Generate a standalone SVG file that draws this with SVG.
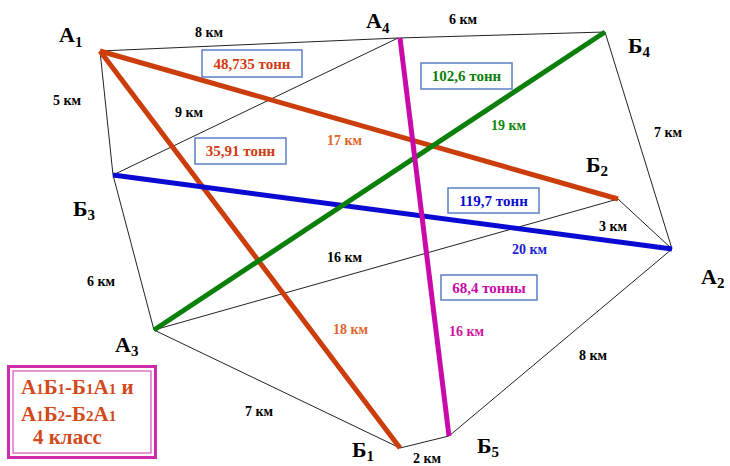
<svg xmlns="http://www.w3.org/2000/svg" width="730" height="466" viewBox="0 0 730 466">
<style>
text{font-family:"Liberation Serif","Times New Roman",serif;font-weight:bold}
.thin{stroke:#222;stroke-width:1;fill:none}
.thick{stroke-width:5;fill:none}
.r{stroke:#cc3d0c}.g{stroke:#0a800a}.b{stroke:#0a0ad2}.m{stroke:#c80aa8}
.node{font-size:22px;fill:#000}
.sub{font-size:15px}
.km{font-size:14px;fill:#000}
.box{fill:#fff;stroke:#5b7fc4;stroke-width:1.5}
.bt{font-size:15px;text-anchor:middle}
.lg{font-size:21px;fill:#d24a1a}
.ls{font-size:15px}
</style>
<rect width="730" height="466" fill="#fff"/>
<g id="connectors">
<polyline class="thin" points="100,51 398,38 605,32 672,249 449,436 400,448 154,330 113,175 100,51"/>
<line class="thin" x1="113" y1="175" x2="398" y2="38"/>
<line class="thin" x1="154" y1="330" x2="618" y2="199"/>
<line class="thin" x1="618" y1="199" x2="672" y2="249"/>
<line class="thick r" x1="100" y1="51" x2="618" y2="199"/>
<line class="thick r" x1="100" y1="51" x2="400" y2="448"/>
<line class="thick b" x1="113" y1="175" x2="672" y2="249"/>
<line class="thick g" x1="154" y1="330" x2="605" y2="32"/>
<line class="thick m" x1="400" y1="38" x2="449" y2="436"/>
</g>
<g id="A1"><text class="node" x="59" y="42">А<tspan class="sub" dy="5">1</tspan></text></g>
<g id="A4"><text class="node" x="366" y="28">А<tspan class="sub" dy="5">4</tspan></text></g>
<g id="B4"><text class="node" x="628" y="53">Б<tspan class="sub" dy="4">4</tspan></text></g>
<g id="B2"><text class="node" x="586" y="172">Б<tspan class="sub" dy="4">2</tspan></text></g>
<g id="A2"><text class="node" x="701" y="284">А<tspan class="sub" dy="4">2</tspan></text></g>
<g id="B3"><text class="node" x="73" y="216">Б<tspan class="sub" dy="4">3</tspan></text></g>
<g id="A3"><text class="node" x="115" y="352">А<tspan class="sub" dy="4">3</tspan></text></g>
<g id="B1"><text class="node" x="352" y="457">Б<tspan class="sub" dy="4">1</tspan></text></g>
<g id="B5"><text class="node" x="477" y="453">Б<tspan class="sub" dy="4">5</tspan></text></g>
<g id="labels">
<text class="km" x="195" y="37">8 км</text>
<text class="km" x="449" y="24">6 км</text>
<text class="km" x="53" y="105">5 км</text>
<text class="km" x="175" y="117">9 км</text>
<text class="km" x="654" y="137">7 км</text>
<text class="km" x="599" y="231">3 км</text>
<text class="km" x="87" y="286">6 км</text>
<text class="km" x="327" y="262">16 км</text>
<text class="km" x="579" y="360">8 км</text>
<text class="km" x="245" y="416">7 км</text>
<text class="km" x="413" y="463">2 км</text>
<text class="km" x="327" y="145" style="fill:#e0662a">17 км</text>
<text class="km" x="333" y="334" style="fill:#e0662a">18 км</text>
<text class="km" x="491" y="130" style="fill:#0a8a0a">19 км</text>
<text class="km" x="512" y="254" style="fill:#2020d8">20 км</text>
<text class="km" x="449" y="336" style="fill:#d0169e">16 км</text>
</g>
<g id="box48"><rect class="box" x="202" y="50" width="100" height="27"/><text class="bt" x="252" y="69" fill="#d23a10">48,735 тонн</text></g>
<g id="box35"><rect class="box" x="195" y="138" width="91" height="26"/><text class="bt" x="240.5" y="156" fill="#d23a10">35,91 тонн</text></g>
<g id="box102"><rect class="box" x="421" y="63" width="91" height="26"/><text class="bt" x="466.5" y="81" fill="#0a800a">102,6 тонн</text></g>
<g id="box119"><rect class="box" x="448" y="188" width="91" height="25"/><text class="bt" x="493.5" y="206" fill="#0a0ad2">119,7 тонн</text></g>
<g id="box68"><rect class="box" x="441" y="275" width="96" height="25"/><text class="bt" x="489" y="293" fill="#c80aa8">68,4 тонны</text></g>
<g id="legend">
<rect x="8.5" y="366.5" width="147" height="91" fill="#fff" stroke="#d02aa8" stroke-width="3"/>
<rect x="13" y="371" width="138" height="82" fill="none" stroke="#d02aa8" stroke-width="1"/>
<text class="lg" x="21" y="394">А<tspan class="ls">1</tspan>Б<tspan class="ls">1</tspan>-Б<tspan class="ls">1</tspan>А<tspan class="ls">1</tspan> и</text>
<text class="lg" x="21" y="421">А<tspan class="ls">1</tspan>Б<tspan class="ls">2</tspan>-Б<tspan class="ls">2</tspan>А<tspan class="ls">1</tspan></text>
<text class="lg" x="33" y="444">4 класс</text>
</g>
</svg>
